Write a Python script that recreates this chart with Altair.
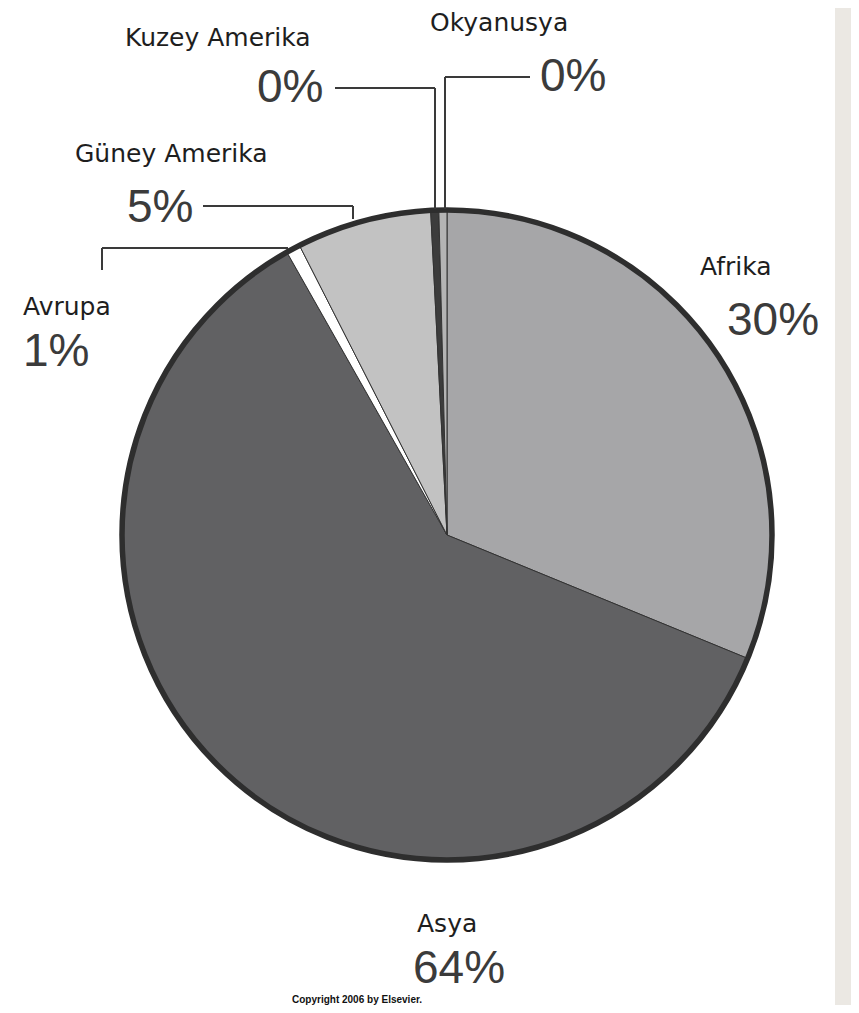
import altair as alt
import pandas as pd

# ---- data -------------------------------------------------------------
regions = ["Afrika", "Asya", "Avrupa", "Güney Amerika", "Kuzey Amerika", "Okyanusya"]
shares = [31.2, 60.6, 0.7, 6.7, 0.4, 0.4]          # slice sizes as drawn (% of circle)
pct_labels = ["30%", "64%", "1%", "5%", "0%", "0%"]  # printed labels
order_idx = [0, 1, 2, 3, 4, 5]

# ---- styles / layout (page pixels) -------------------------------------
colors = ["#a6a6a8", "#616163", "#ffffff", "#c2c2c2", "#3c3c3c", "#b4b4b4"]
name_x = [700, 417, 23, 75, 125, 430]
name_y = [275, 932, 315, 162, 46, 31]
pct_x = [727, 413, 23, 127, 257, 540]
pct_y = [335, 983, 366, 222, 102, 91]

seg_x1 = [335, 435, 445, 445, 203, 353, 102, 102]
seg_y1 = [88, 88, 77, 77, 206, 206, 248, 248]
seg_x2 = [435, 435, 530, 445, 353, 353, 288, 102]
seg_y2 = [88, 209, 77, 209, 206, 219, 248, 270]

W, H = 843, 997
CX, CY, R = 447, 535, 325

df = pd.DataFrame({
    "region": regions, "share": shares, "pct": pct_labels, "idx": order_idx,
    "nx": name_x, "ny": name_y, "px": pct_x, "py": pct_y,
})
segs = pd.DataFrame({"x1": seg_x1, "y1": seg_y1, "x2": seg_x2, "y2": seg_y2})

xs = alt.Scale(domain=[8, 8 + W], nice=False, zero=False)
ys = alt.Scale(domain=[8, 8 + H], nice=False, zero=False, reverse=True)

strip = alt.Chart(pd.DataFrame({"a": [0]})).mark_rect(color="#ebe8e3").encode(
    x=alt.value(827), x2=alt.value(W), y=alt.value(0), y2=alt.value(H)
)

pie = alt.Chart(df).mark_arc(radius=R, stroke="#333333", strokeWidth=1).encode(
    theta=alt.Theta("share:Q", stack=True),
    order=alt.Order("idx:Q"),
    color=alt.Color("region:N", scale=alt.Scale(domain=regions, range=colors), legend=None),
    x=alt.value(CX - 8),
    y=alt.value(CY - 8),
)

ring = alt.Chart(pd.DataFrame({"a": [0]})).mark_arc(
    radius=R, theta=0, theta2=6.2832, filled=False, stroke="#2e2e2e", strokeWidth=5.5
).encode(x=alt.value(CX - 8), y=alt.value(CY - 8))

rules = alt.Chart(segs).mark_rule(color="#3a3a3a", strokeWidth=2).encode(
    x=alt.X("x1:Q", scale=xs, axis=None),
    y=alt.Y("y1:Q", scale=ys, axis=None),
    x2="x2:Q",
    y2="y2:Q",
)

names = alt.Chart(df).mark_text(
    align="left", baseline="alphabetic", font="DejaVu Sans", fontSize=25, color="#1e1e1e"
).encode(
    x=alt.X("nx:Q", scale=xs, axis=None),
    y=alt.Y("ny:Q", scale=ys, axis=None),
    text="region:N",
)

pcts = alt.Chart(df).mark_text(
    align="left", baseline="alphabetic", font="Liberation Sans", fontSize=46, color="#3b3b3b"
).encode(
    x=alt.X("px:Q", scale=xs, axis=None),
    y=alt.Y("py:Q", scale=ys, axis=None),
    text="pct:N",
)

copyright = alt.Chart(pd.DataFrame({"t": ["Copyright 2006 by Elsevier."]})).mark_text(
    align="left", baseline="alphabetic", font="Liberation Sans", fontSize=10,
    fontWeight="bold", color="#111111"
).encode(x=alt.value(292 - 8), y=alt.value(1003 - 8), text="t:N")

chart = alt.layer(strip, pie, ring, rules, names, pcts, copyright).properties(
    width=W, height=H, padding=0, autosize="none", background="white"
).configure_view(stroke=None)

chart.save("out.html", embed_options={"renderer": "svg", "actions": False})
